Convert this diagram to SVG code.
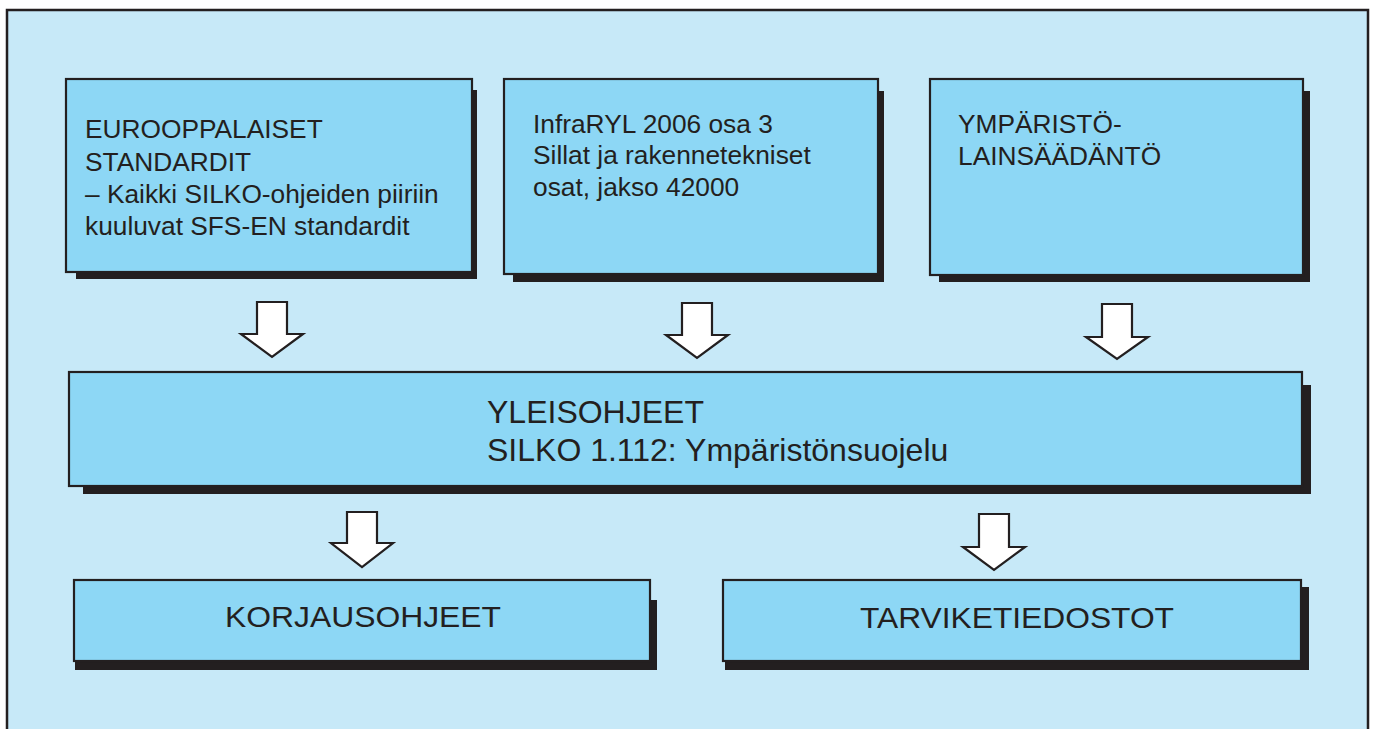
<svg xmlns="http://www.w3.org/2000/svg" width="1374" height="729" viewBox="0 0 1374 729">
<style>
.box{fill:#8dd7f5;stroke:#231f20;stroke-width:2.2}
.sh{fill:#231f20}
.t{font-family:"Liberation Sans",Arial,sans-serif;fill:#231f20}
.s26{font-size:26.3px}
.s32{font-size:32px}
.s30{font-size:30px}
.arr{fill:#ffffff;stroke:#231f20;stroke-width:2.2;stroke-linejoin:miter}
</style>
<rect x="0" y="0" width="1374" height="729" fill="#ffffff"/>
<rect id="frame" x="7" y="10" width="1361" height="730" fill="#c7e9f8" stroke="#231f20" stroke-width="2.5"/>
<g id="connectors">
<polygon class="arr" points="257,302 287,302 287,334 303,334 272,357 241,334 257,334"/>
<polygon class="arr" points="682,303 712,303 712,335 728,335 697,358 666,335 682,335"/>
<polygon class="arr" points="1102,304 1132,304 1132,337 1148,337 1117,359 1086,337 1102,337"/>
<polygon class="arr" points="347,512 377,512 377,543 393,543 362,567 331,543 347,543"/>
<polygon class="arr" points="979,514 1009,514 1009,547 1025,547 994,570 963,547 979,547"/>
</g>
<g id="n1">
<rect class="sh" x="76" y="90" width="401" height="189"/>
<rect class="box" x="66" y="79" width="406" height="193"/>
<text class="t s26" x="85" y="138">EUROOPPALAISET</text>
<text class="t s26" x="85" y="171">STANDARDIT</text>
<text class="t s26" x="85" y="203">– Kaikki SILKO-ohjeiden piiriin</text>
<text class="t s26" x="85" y="235">kuuluvat SFS-EN standardit</text>
</g>
<g id="n2">
<rect class="sh" x="513" y="91" width="371" height="191"/>
<rect class="box" x="504" y="79" width="374" height="195"/>
<text class="t s26" x="533" y="133">InfraRYL 2006 osa 3</text>
<text class="t s26" x="533" y="164">Sillat ja rakennetekniset</text>
<text class="t s26" x="533" y="196">osat, jakso 42000</text>
</g>
<g id="n3">
<rect class="sh" x="939" y="91" width="371" height="191"/>
<rect class="box" x="930" y="79" width="373" height="196"/>
<text class="t s26" x="958" y="133">YMPÄRISTÖ-</text>
<text class="t s26" x="958" y="165">LAINSÄÄDÄNTÖ</text>
</g>
<g id="n4">
<rect class="sh" x="83" y="385" width="1228" height="109"/>
<rect class="box" x="69" y="372" width="1233" height="114"/>
<text class="t s32" x="487" y="423">YLEISOHJEET</text>
<text class="t s32" x="487" y="461">SILKO 1.112: Ympäristönsuojelu</text>
</g>
<g id="n5">
<rect class="sh" x="75" y="600" width="582" height="70"/>
<rect class="box" x="74" y="580" width="576" height="81"/>
<text class="t s30" x="363" y="627" text-anchor="middle" textLength="276" lengthAdjust="spacingAndGlyphs">KORJAUSOHJEET</text>
</g>
<g id="n6">
<rect class="sh" x="725" y="587" width="584" height="83"/>
<rect class="box" x="723" y="580" width="578" height="81"/>
<text class="t s30" x="1017" y="628" text-anchor="middle" textLength="314" lengthAdjust="spacingAndGlyphs">TARVIKETIEDOSTOT</text>
</g>
</svg>
